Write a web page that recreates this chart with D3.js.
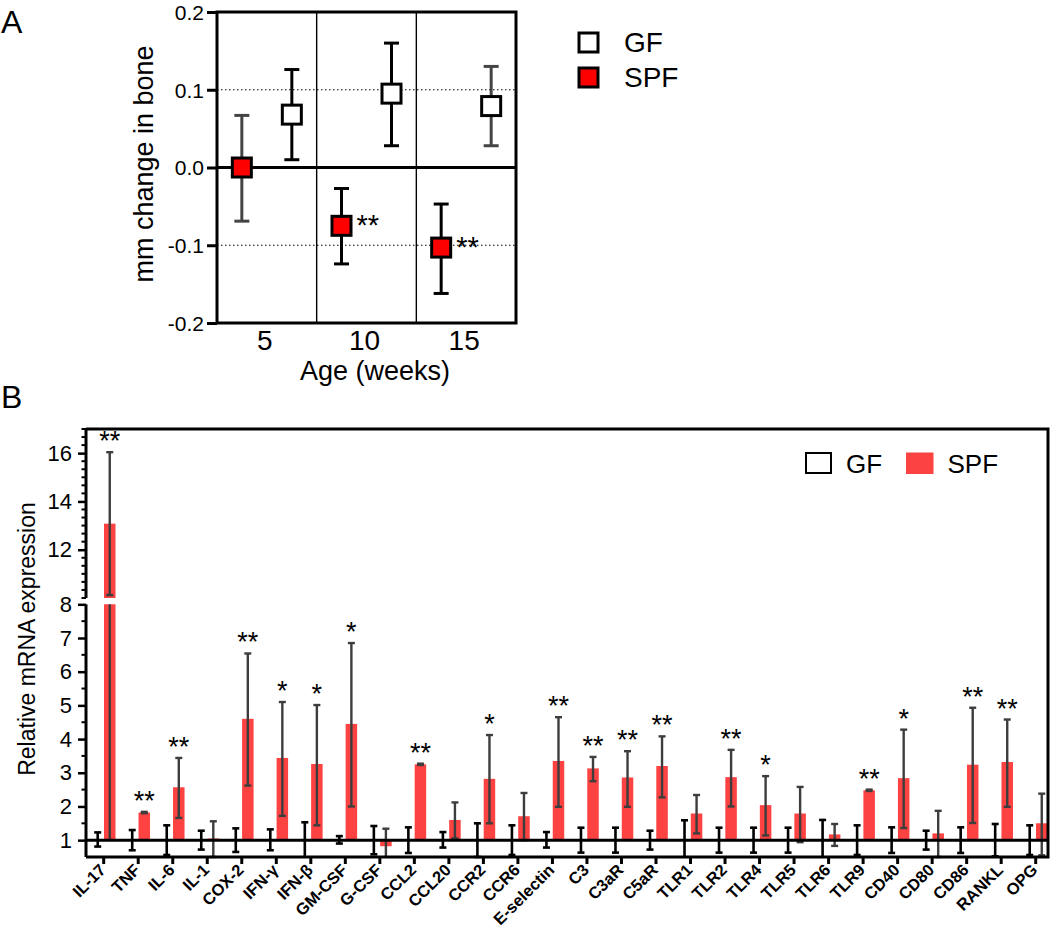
<!DOCTYPE html>
<html><head><meta charset="utf-8">
<script src="https://cdn.jsdelivr.net/npm/d3@7"></script>
<style>
body{margin:0;background:#fff;}
text{font-family:"Liberation Sans",Arial,sans-serif;fill:#000;}
</style></head><body>
<svg id="c" width="1050" height="927"></svg>
<script>
// ---------------- Panel A data ----------------
const ageGroups = ["5", "10", "15"];
const gfMean  = [0.068, 0.095, 0.079];
const gfLow   = [0.010, 0.028, 0.028];
const gfHigh  = [0.126, 0.160, 0.130];
const spfMean = [0.000, -0.075, -0.103];
const spfLow  = [-0.069, -0.124, -0.162];
const spfHigh = [0.067, -0.027, -0.047];
const spfSigA = ["", "**", "**"];
const yTicksA = [-0.2, -0.1, 0, 0.1, 0.2];
const refLinesA = [0.1, -0.1];

// ---------------- Panel B data ----------------
const genes = ["IL-17","TNF","IL-6","IL-1","COX-2","IFN-\u03B3","IFN-\u03B2","GM-CSF","G-CSF","CCL2","CCL20","CCR2","CCR6","E-selectin","C3","C3aR","C5aR","TLR1","TLR2","TLR4","TLR5","TLR6","TLR9","CD40","CD80","CD86","RANKL","OPG"];
const gfExpr = [1.02,1.00,1.00,1.00,1.00,1.01,1.00,1.01,1.00,1.00,1.01,1.00,1.00,1.01,1.00,1.00,1.00,1.00,1.00,1.00,1.00,1.00,1.00,1.00,1.00,1.00,1.00,1.00];
const gfErr  = [0.21,0.30,0.44,0.28,0.35,0.31,0.53,0.11,0.42,0.38,0.23,0.50,0.44,0.23,0.37,0.37,0.28,0.59,0.37,0.37,0.37,0.60,0.44,0.38,0.28,0.38,0.48,0.44];
const spfExpr = [13.08,1.82,2.57,1.05,4.60,3.44,3.26,4.45,0.82,3.25,1.60,2.82,1.71,3.35,3.13,2.86,3.20,1.79,2.87,2.04,1.79,1.17,2.48,2.84,1.20,3.24,3.32,1.50];
const spfHi  = [16.04,1.84,3.44,1.56,6.54,5.10,5.01,6.85,1.34,3.27,2.12,4.12,2.40,4.65,3.47,3.64,4.08,2.34,3.68,2.90,2.58,1.48,2.50,4.28,1.87,4.93,4.58,2.38];
const spfLo  = [10.12,1.80,1.66,0.50,2.62,1.72,1.44,2.00,0.30,3.23,1.05,1.50,1.00,1.99,2.75,1.99,2.27,1.20,2.00,1.14,0.94,0.83,2.46,1.36,0.50,1.51,1.99,0.55];
const sigB   = ["**","**","**","","**","*","*","*","","**","","*","","**","**","**","**","","**","*","","","**","*","","**","**",""];
const yMajorLow = [1,2,3,4,5,6,7,8];
const yMajorHigh = [12,14,16];
const lowDomain = [0.5, 8];
const highDomain = [10, 17];

const svg = d3.select("#c");
const RED_A = "#ff0000", RED_B = "#fd4242", ERR_B = "#3d3d3d";

// ================= Panel A =================
const A = {l:217, r:516, t:12, b:323};
const xA = d3.scaleBand().domain(ageGroups).range([A.l, A.r]);
const yA = d3.scaleLinear().domain([-0.2, 0.2]).range([A.b, A.t]);
const gA = svg.append("g");

refLinesA.forEach(v => gA.append("line").attr("x1", A.l).attr("x2", A.r)
  .attr("y1", yA(v)).attr("y2", yA(v)).attr("stroke", "#000").attr("stroke-width", 1.2).attr("stroke-dasharray", "1.5,2.5"));
ageGroups.slice(1).forEach(g => gA.append("line").attr("x1", xA(g)).attr("x2", xA(g))
  .attr("y1", A.t).attr("y2", A.b).attr("stroke", "#000").attr("stroke-width", 1.4));
gA.append("line").attr("x1", A.l).attr("x2", A.r).attr("y1", yA(0)).attr("y2", yA(0))
  .attr("stroke", "#000").attr("stroke-width", 3);
gA.append("rect").attr("x", A.l).attr("y", A.t).attr("width", A.r - A.l).attr("height", A.b - A.t)
  .attr("fill", "none").attr("stroke", "#000").attr("stroke-width", 3);

gA.append("g").attr("transform", `translate(${A.l},0)`)
  .call(d3.axisLeft(yA).tickValues(yTicksA).tickSize(10).tickSizeOuter(0).tickPadding(3).tickFormat(d => d.toFixed(1)))
  .call(g => { g.select(".domain").remove(); g.selectAll("line").attr("stroke-width", 3);
    g.selectAll("text").attr("font-size", 21).attr("dy", "0.35em"); });

ageGroups.forEach(g => gA.append("text").attr("x", xA(g) + xA.bandwidth()/2 - 2).attr("y", 350)
  .attr("text-anchor", "middle").attr("font-size", 28).text(g));

const seriesA = [
  {mean: spfMean, low: spfLow, high: spfHigh, off: -25, fill: RED_A, err: ["#444","#000","#000"]},
  {mean: gfMean, low: gfLow, high: gfHigh, off: 25, fill: "#fff", err: ["#000","#000","#444"]}
];
seriesA.forEach(s => {
  ageGroups.forEach((g, i) => {
    const cx = xA(g) + xA.bandwidth()/2 + s.off;
    gA.append("line").attr("x1", cx).attr("x2", cx).attr("y1", yA(s.low[i])).attr("y2", yA(s.high[i]))
      .attr("stroke", s.err[i]).attr("stroke-width", 3);
    [s.low[i], s.high[i]].forEach(v => gA.append("line").attr("x1", cx - 7.5).attr("x2", cx + 7.5)
      .attr("y1", yA(v)).attr("y2", yA(v)).attr("stroke", s.err[i]).attr("stroke-width", 3));
  });
});
seriesA.forEach(s => {
  ageGroups.forEach((g, i) => {
    const cx = xA(g) + xA.bandwidth()/2 + s.off;
    gA.append("rect").attr("x", cx - 9.5).attr("y", yA(s.mean[i]) - 9.5).attr("width", 19).attr("height", 19)
      .attr("fill", s.fill).attr("stroke", "#000").attr("stroke-width", 3);
  });
});
ageGroups.forEach((g, i) => {
  if (!spfSigA[i]) return;
  const cx = xA(g) + xA.bandwidth()/2 - 25;
  gA.append("text").attr("x", cx + 15).attr("y", yA(spfMean[i]) + 9).attr("font-size", 29).text(spfSigA[i]);
});

gA.append("text").attr("transform", "translate(153,164) rotate(-90)").attr("text-anchor", "middle")
  .attr("font-size", 27).text("mm change in bone");
gA.append("text").attr("x", 375).attr("y", 380).attr("text-anchor", "middle").attr("font-size", 27).text("Age (weeks)");

// legend A
[["GF", "#fff", 33, 52], ["SPF", RED_A, 68, 87]].forEach(([lab, fill, y, ty]) => {
  gA.append("rect").attr("x", 579).attr("y", y).attr("width", 19).attr("height", 19)
    .attr("fill", fill).attr("stroke", "#000").attr("stroke-width", 3);
  gA.append("text").attr("x", 624).attr("y", ty).attr("font-size", 28).text(lab);
});

svg.append("text").attr("x", 1).attr("y", 33).attr("font-size", 32).text("A");
svg.append("text").attr("x", 1).attr("y", 408).attr("font-size", 32).text("B");

// ================= Panel B =================
const B = {l:86, r:1048, t:429, b:857};
const xB = d3.scalePoint().domain(genes).range([103.7, 1035.7]);
const yLow = d3.scaleLinear().domain(lowDomain).range([B.b, 604.3]);
const yHigh = d3.scaleLinear().domain(highDomain).range([598, B.t]);
const gB = svg.append("g");
const BW = 11.5;

// SPF bars
genes.forEach((g, i) => {
  const x = xB(g) + 0.3, v = spfExpr[i];
  if (v <= lowDomain[1]) {
    gB.append("rect").attr("x", x).attr("width", BW)
      .attr("y", yLow(Math.max(1, v))).attr("height", Math.abs(yLow(1) - yLow(v))).attr("fill", RED_B);
  } else {
    gB.append("rect").attr("x", x).attr("width", BW).attr("y", yLow(lowDomain[1]))
      .attr("height", yLow(1) - yLow(lowDomain[1])).attr("fill", RED_B);
    gB.append("rect").attr("x", x).attr("width", BW).attr("y", yHigh(v))
      .attr("height", yHigh(highDomain[0]) - yHigh(v)).attr("fill", RED_B);
  }
  // GF bars (white, outline)
  const gx = xB(g) - 6 - BW/2, gv = gfExpr[i];
  gB.append("rect").attr("x", gx).attr("width", BW).attr("y", yLow(Math.max(1, gv)))
    .attr("height", Math.abs(yLow(1) - yLow(gv))).attr("fill", "#fff").attr("stroke", "#000").attr("stroke-width", 1);
});

function errSeg(cx, lo, hi, color, sw, capW) {
  [[yLow, lowDomain], [yHigh, highDomain]].forEach(([sc, dom]) => {
    const a = Math.max(lo, dom[0]), b = Math.min(hi, dom[1]);
    if (a >= b) return;
    gB.append("line").attr("x1", cx).attr("x2", cx).attr("y1", sc(a)).attr("y2", sc(b))
      .attr("stroke", color).attr("stroke-width", sw);
    [lo, hi].forEach(v => { if (v >= dom[0] && v <= dom[1])
      gB.append("line").attr("x1", cx - capW/2).attr("x2", cx + capW/2).attr("y1", sc(v)).attr("y2", sc(v))
        .attr("stroke", color).attr("stroke-width", sw); });
  });
}
genes.forEach((g, i) => {
  const sx = xB(g) + 0.3 + BW/2;
  errSeg(sx, spfLo[i], spfHi[i], ERR_B, 2.4, 7);
  if (spfExpr[i] > highDomain[0]) {
    gB.append("line").attr("x1", sx).attr("x2", sx).attr("y1", yLow(1)).attr("y2", yLow(lowDomain[1]))
      .attr("stroke", ERR_B).attr("stroke-width", 2.4);
  }
  const gx = xB(g) - 6;
  errSeg(gx, gfExpr[i] - gfErr[i], gfExpr[i] + gfErr[i], "#000", 2.6, 7);
});

// baseline at 1, frame
gB.append("line").attr("x1", B.l).attr("x2", B.r).attr("y1", yLow(1)).attr("y2", yLow(1)).attr("stroke", "#000").attr("stroke-width", 3);
gB.append("path").attr("d", `M${B.l},${B.t}H${B.r}V${B.b}H${B.l}`).attr("fill", "none").attr("stroke", "#000").attr("stroke-width", 3);
gB.append("line").attr("x1", B.l).attr("x2", B.l).attr("y1", B.b).attr("y2", yLow(lowDomain[1])).attr("stroke", "#000").attr("stroke-width", 3);
gB.append("line").attr("x1", B.l).attr("x2", B.l).attr("y1", yHigh(highDomain[0])).attr("y2", B.t).attr("stroke", "#000").attr("stroke-width", 3);

// y axes
const tickFont = g => { g.select(".domain").remove(); g.selectAll("line").attr("stroke-width", 2.5);
  g.selectAll("text").attr("font-size", 22).style("font-family", "'Liberation Sans Narrow','Arial Narrow','Liberation Sans',Arial,sans-serif"); };
gB.append("g").attr("transform", `translate(${B.l},0)`)
  .call(d3.axisLeft(yLow).tickValues(yMajorLow).tickSize(8).tickSizeOuter(0).tickPadding(6).tickFormat(d3.format("d"))).call(tickFont);
gB.append("g").attr("transform", `translate(${B.l},0)`)
  .call(d3.axisLeft(yHigh).tickValues(yMajorHigh).tickSize(8).tickSizeOuter(0).tickPadding(6).tickFormat(d3.format("d"))).call(tickFont);
const minorLow = d3.range(3, 16).map(i => i / 2).filter(v => !yMajorLow.includes(v));
const minorHigh = d3.range(0, 22).map(i => 10 + i / 3).filter(v => !yMajorHigh.some(m => Math.abs(m - v) < 1e-6));
minorLow.forEach(v => gB.append("line").attr("x1", B.l - 4.5).attr("x2", B.l).attr("y1", yLow(v)).attr("y2", yLow(v)).attr("stroke", "#000").attr("stroke-width", 2));
minorHigh.forEach(v => gB.append("line").attr("x1", B.l - 4.5).attr("x2", B.l).attr("y1", yHigh(v)).attr("y2", yHigh(v)).attr("stroke", "#000").attr("stroke-width", 2));

// x ticks and labels
genes.forEach(g => {
  gB.append("line").attr("x1", xB(g)).attr("x2", xB(g)).attr("y1", B.b).attr("y2", B.b + 7).attr("stroke", "#000").attr("stroke-width", 3);
  gB.append("text").attr("transform", `translate(${xB(g) + 3},${B.b + 14}) rotate(-45)`)
    .attr("text-anchor", "end").attr("font-size", 16.5).attr("font-weight", "bold").text(g);
});

// significance stars
genes.forEach((g, i) => {
  if (!sigB[i]) return;
  const top = Math.max(spfHi[i], spfExpr[i]);
  const y = top > lowDomain[1] ? yHigh(top) : yLow(top);
  gB.append("text").attr("x", xB(g) + 0.3 + BW/2).attr("y", y - 2).attr("text-anchor", "middle")
    .attr("font-size", 27).text(sigB[i]);
});

gB.append("text").attr("transform", "translate(35,639) rotate(-90)").attr("text-anchor", "middle")
  .attr("font-size", 23).text("Relative mRNA expression");

// legend B
gB.append("rect").attr("x", 806).attr("y", 453).attr("width", 25).attr("height", 20).attr("fill", "#fff").attr("stroke", "#000").attr("stroke-width", 2);
gB.append("text").attr("x", 846).attr("y", 473).attr("font-size", 26).text("GF");
gB.append("rect").attr("x", 906).attr("y", 452.5).attr("width", 27.5).attr("height", 21.5).attr("fill", RED_B);
gB.append("text").attr("x", 947.5).attr("y", 473).attr("font-size", 26).text("SPF");
</script>
</body></html>
